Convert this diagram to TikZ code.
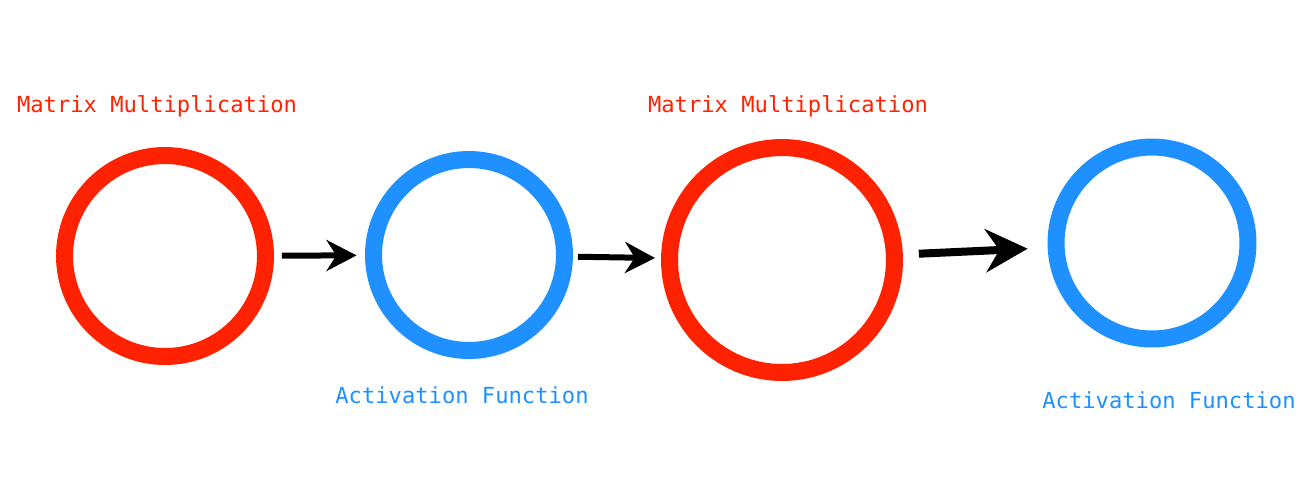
\documentclass[tikz,border=0pt]{standalone}
\usepackage{fontspec}
\setmonofont{DejaVu Sans Mono}
\usetikzlibrary{arrows.meta}
\definecolor{mmred}{RGB}{255,34,0}
\definecolor{actblue}{RGB}{30,144,255}

\begin{document}
\begin{tikzpicture}[x=0.02cm, y=-0.02cm,
    ring/.style={circle, draw, line width=0.34cm, inner sep=0pt},
    lbl/.style={font=\ttfamily\fontsize{12.6}{14}\selectfont, anchor=base, inner sep=0pt},
    flow/.style={-{Stealth[length=0.6cm, width=0.62cm]}, line width=0.12cm}]
    \useasboundingbox (0, 0) rectangle (1305, 485);
    % layers
    \node[ring, draw=mmred, minimum size=4.02cm] (m1) at (165, 256) {};
    \node[ring, draw=actblue, minimum size=3.82cm] (a1) at (469, 255) {};
    \node[ring, draw=mmred, minimum size=4.5cm] (m2) at (782, 260) {};
    \node[ring, draw=actblue, minimum size=3.84cm] (a2) at (1152, 243) {};
    % labels
    \node[lbl, text=mmred] (m1text) at (157, 112) {Matrix Multiplication};
    \node[lbl, text=mmred] (m2text) at (788, 112) {Matrix Multiplication};
    \node[lbl, text=actblue] (a1text) at (462, 403) {Activation Function};
    \node[lbl, text=actblue] (a2text) at (1169, 408) {Activation Function};
    % arrows
    \draw[flow, shorten <=0.16cm, shorten >=0.17cm] (m1) -- (a1);
    \draw[flow, shorten <=0.1cm, shorten >=0.12cm] (a1) -- (m2);
    \draw[flow, line width=0.16cm, -{Stealth[length=0.84cm, width=0.86cm]},
    shorten <=0.32cm, shorten >=0.4cm] (m2) -- (a2);
  \end{tikzpicture}
\end{document}
